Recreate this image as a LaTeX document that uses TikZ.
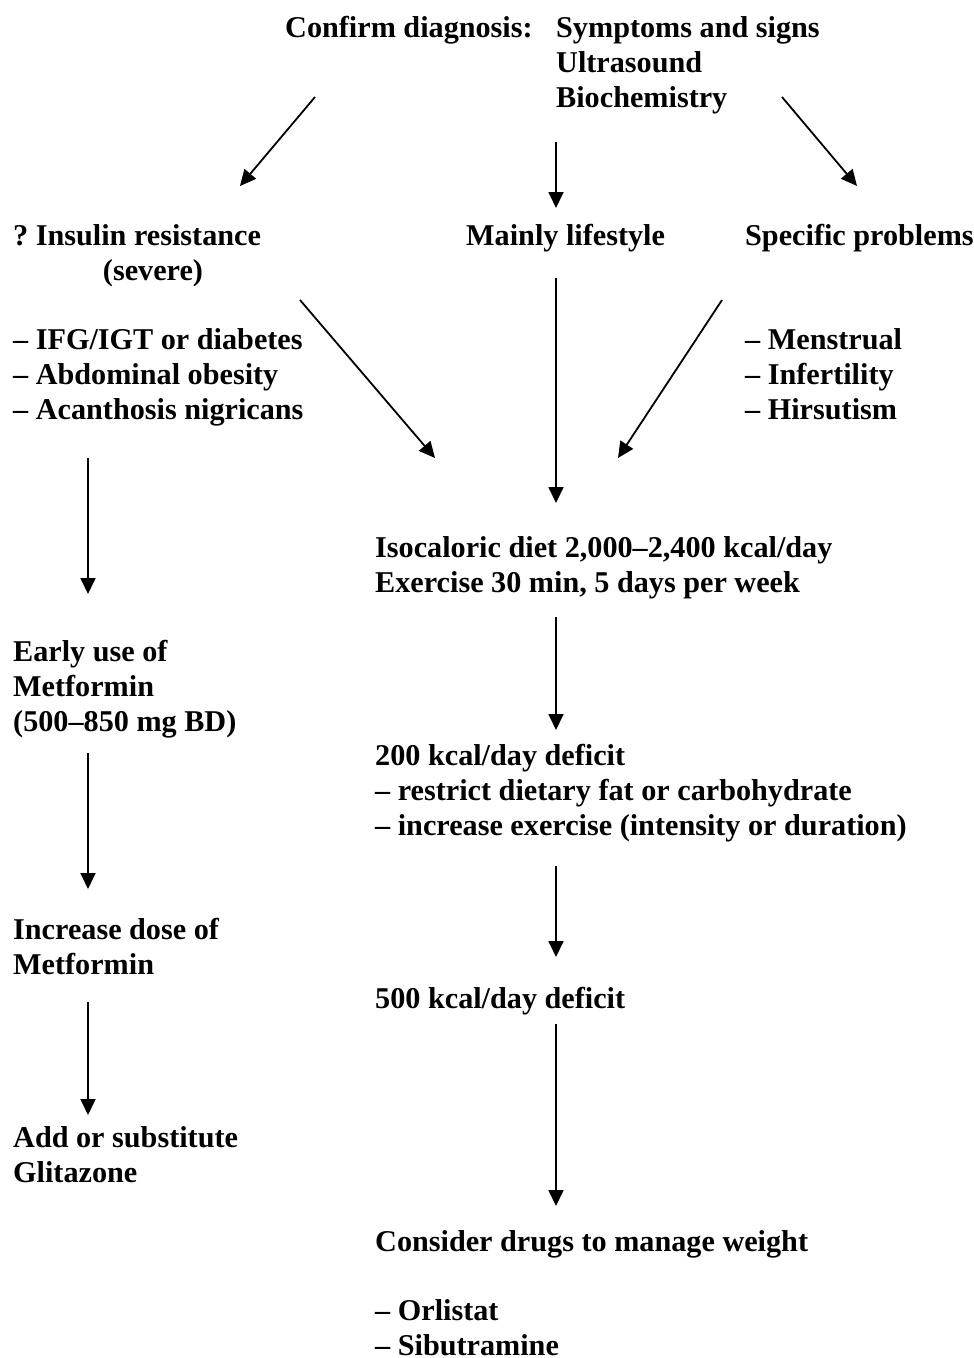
\documentclass[tikz,border=0pt]{standalone}
\usepackage{fontspec}
\setmainfont{Liberation Serif}
\usetikzlibrary{arrows.meta}
\begin{document}
\frenchspacing
\begin{tikzpicture}[x=1pt,y=-1pt,
  txt/.style={anchor=base west,inner sep=0pt,font=\fontsize{30.2}{35}\selectfont\bfseries,align=left},
  arr/.style={line width=1.8pt,-{Triangle[length=16pt,width=15pt]}}]
\useasboundingbox[fill=white] (0,0) rectangle (974,1358);
% texts (base anchor = baseline of the last line)
\node[txt] (confirm) at (285,37) {Confirm diagnosis:};
\node[txt] (symp) at (556,107) {Symptoms and signs\\Ultrasound\\Biochemistry};
\node[txt] (insulin) at (13,245) {? Insulin resistance};
\node[txt,anchor=base] (severe) at (153,280) {(severe)};
\node[txt] (life) at (466,245) {Mainly lifestyle};
\node[txt] (spec) at (745,245) {Specific problems};
\node[txt] (ifg) at (13,419) {-- IFG/IGT or diabetes\\-- Abdominal obesity\\-- Acanthosis nigricans};
\node[txt] (menst) at (745,419) {-- Menstrual\\-- Infertility\\-- Hirsutism};
\node[txt] (iso) at (375,592) {Isocaloric diet 2,000--2,400 kcal/day\\Exercise 30 min, 5 days per week};
\node[txt] (early) at (13,731) {Early use of\\Metformin\\(500--850 mg BD)};
\node[txt] (d200) at (375,835) {200 kcal/day deficit\\-- restrict dietary fat or carbohydrate\\-- increase exercise (intensity or duration)};
\node[txt] (incr) at (13,974) {Increase dose of\\Metformin};
\node[txt] (d500) at (375,1008) {500 kcal/day deficit};
\node[txt] (add) at (13,1182) {Add or substitute\\Glitazone};
\node[txt] (drugs) at (375,1355) {Consider drugs to manage weight\\[34pt]-- Orlistat\\-- Sibutramine};
% connector end points
\coordinate (a1s) at (315,97);  \coordinate (a1e) at (240,186);
\coordinate (a2s) at (556,142); \coordinate (a2e) at (556,208);
\coordinate (a3s) at (782,97);  \coordinate (a3e) at (857,186);
\coordinate (a4s) at (300,300); \coordinate (a4e) at (435,458);
\coordinate (a5s) at (556,278); \coordinate (a5e) at (556,503);
\coordinate (a6s) at (722,300); \coordinate (a6e) at (618,458);
\coordinate (a7s) at (88,458);  \coordinate (a7e) at (88,594);
\coordinate (a8s) at (556,617); \coordinate (a8e) at (556,730);
\coordinate (a9s) at (88,753);  \coordinate (a9e) at (88,889);
\coordinate (a10s) at (556,866); \coordinate (a10e) at (556,957);
\coordinate (a11s) at (88,1002); \coordinate (a11e) at (88,1115);
\coordinate (a12s) at (556,1024); \coordinate (a12e) at (556,1206);
\foreach \i in {1,...,12} {\draw[arr] (a\i s) -- (a\i e);}
\end{tikzpicture}
\end{document}
